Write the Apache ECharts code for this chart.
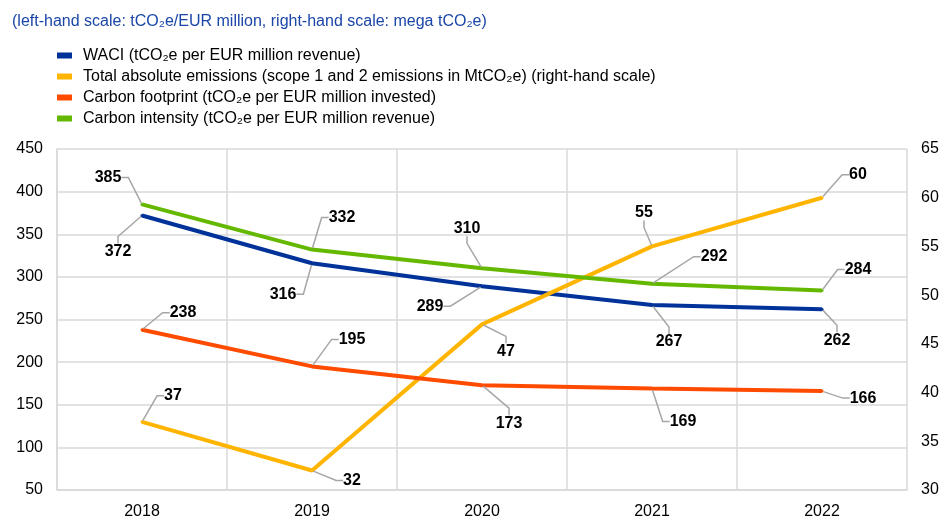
<!DOCTYPE html>
<html>
<head>
<meta charset="utf-8">
<script src="https://cdn.jsdelivr.net/npm/echarts@6/dist/echarts.min.js"></script>
<style>
  html, body { margin: 0; padding: 0; background: #fff; }
  #chart { width: 944px; height: 520px; }
</style>
</head>
<body>
<div id="chart"></div>
<script>
// data
const years = ['2018', '2019', '2020', '2021', '2022'];
const waci = [372, 316, 289, 267, 262];
const totalEmissions = [37, 32, 47, 55, 60]; // right-hand scale
const carbonFootprint = [238, 195, 173, 169, 166];
const carbonIntensity = [385, 332, 310, 292, 284];

const leftTicks = { min: 50, max: 450, interval: 50 };
const rightTicks = { min: 30, max: 65, interval: 5 };

// label offsets (px) from each point, per series
const waciOffsets = [[-24, 36], [-29, 31], [-52, 20], [17, 37], [15, 31]];
const totalOffsets = [[31, -26], [40, 10], [24, 27], [-8, -34], [36, -23]];
const footprintOffsets = [[41, -17], [40, -27], [27, 38], [31, 33], [41, 7]];
const intensityOffsets = [[-34, -27], [30, -32], [-15, -40], [62, -27], [36, -21]];

const chart = echarts.init(document.getElementById('chart'));

const makeSeries = (name, data, color, offsets, yAxisIndex) => ({
  name: name,
  type: 'line',
  yAxisIndex: yAxisIndex,
  data: data,
  symbol: 'circle',
  symbolSize: 3,
  showSymbol: true,
  itemStyle: { color: color },
  lineStyle: { color: color, width: 4 },
  label: {
    show: true,
    position: 'inside',
    color: '#000',
    fontWeight: 'bold',
    fontSize: 16,
    fontFamily: 'Liberation Sans, Arial, sans-serif',
    padding: [0, 4]
  },
  labelLine: {
    show: true,
    length2: 7,
    lineStyle: { color: '#a6a6a6', width: 1.5 }
  },
  labelLayout: (params) => ({
    dx: offsets[params.dataIndex][0],
    dy: offsets[params.dataIndex][1]
  }),
  emphasis: { disabled: true },
  animation: false
});

chart.setOption({
  animation: false,
  textStyle: { fontFamily: 'Liberation Sans, Arial, sans-serif' },
  title: {
    text: '(left-hand scale: tCO₂e/EUR million, right-hand scale: mega tCO₂e)',
    left: 7,
    top: 9,
    textStyle: { color: '#1a46a8', fontSize: 16, fontWeight: 'normal' }
  },
  legend: {
    orient: 'vertical',
    left: 52,
    top: 42,
    icon: 'rect',
    itemWidth: 15,
    itemHeight: 6,
    itemGap: 4,
    textStyle: { fontSize: 16, color: '#000', lineHeight: 17, padding: [0, 0, 0, 6] },
    data: [
      'WACI (tCO₂e per EUR million revenue)',
      'Total absolute emissions (scope 1 and 2 emissions in MtCO₂e) (right-hand scale)',
      'Carbon footprint (tCO₂e per EUR million invested)',
      'Carbon intensity (tCO₂e per EUR million revenue)'
    ]
  },
  grid: { left: 57, right: 37, top: 149, bottom: 28 },
  xAxis: {
    type: 'category',
    data: years,
    boundaryGap: true,
    axisLine: { show: true, lineStyle: { color: '#d9d9d9', width: 1.5 } },
    axisTick: { show: false },
    axisLabel: { color: '#000', fontSize: 16, margin: 14 },
    splitLine: { show: true, lineStyle: { color: '#d9d9d9', width: 1.5 } }
  },
  yAxis: [
    {
      type: 'value',
      min: leftTicks.min,
      max: leftTicks.max,
      interval: leftTicks.interval,
      axisLine: { show: true, lineStyle: { color: '#d9d9d9', width: 1.5 } },
      axisTick: { show: false },
      axisLabel: { color: '#000', fontSize: 16, margin: 14 },
      splitLine: { lineStyle: { color: '#d9d9d9', width: 1.5 } }
    },
    {
      type: 'value',
      min: rightTicks.min,
      max: rightTicks.max,
      interval: rightTicks.interval,
      axisLine: { show: false },
      axisTick: { show: false },
      axisLabel: { color: '#000', fontSize: 16, margin: 14 },
      splitLine: { show: false }
    }
  ],
  series: [
    makeSeries('WACI (tCO₂e per EUR million revenue)', waci, '#003299', waciOffsets, 0),
    makeSeries('Total absolute emissions (scope 1 and 2 emissions in MtCO₂e) (right-hand scale)', totalEmissions, '#ffb400', totalOffsets, 1),
    makeSeries('Carbon footprint (tCO₂e per EUR million invested)', carbonFootprint, '#ff4b00', footprintOffsets, 0),
    makeSeries('Carbon intensity (tCO₂e per EUR million revenue)', carbonIntensity, '#65b800', intensityOffsets, 0)
  ]
});

window.addEventListener('resize', () => {
  chart.resize();
});
</script>
</body>
</html>
